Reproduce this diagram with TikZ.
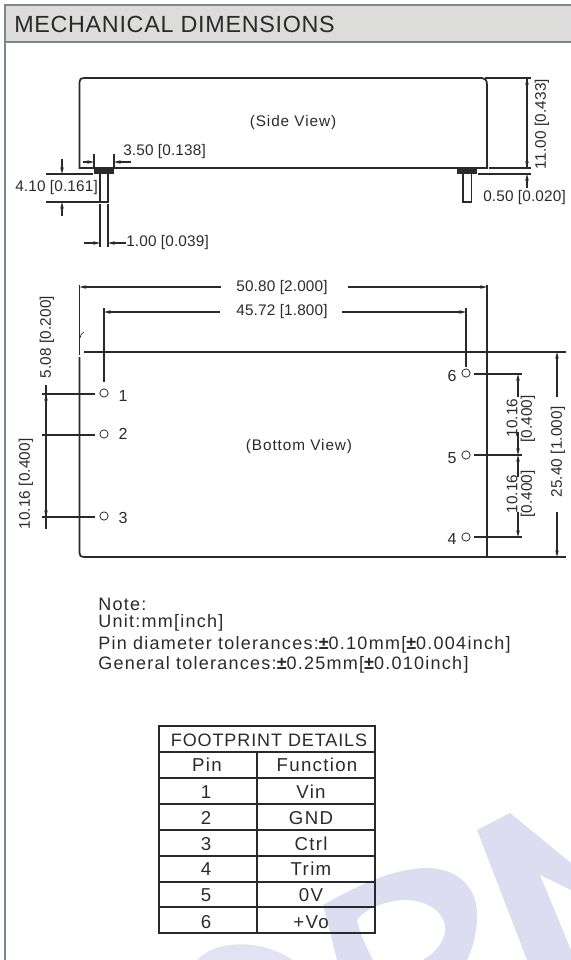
\documentclass[tikz,border=0pt]{standalone}
\usepackage{fontspec}
\setmainfont{Liberation Sans}
\usetikzlibrary{arrows.meta, positioning}
\definecolor{framegray}{HTML}{7B8790}
\definecolor{headgray}{HTML}{DCDCDA}
\definecolor{inkgray}{HTML}{2A2A2C}
\definecolor{markblue}{HTML}{DDDDF1}
\tikzset{
  outline/.style = {draw=inkgray, line width=1.3pt},
  dimline/.style = {draw=inkgray, line width=1.1pt},
  dimarrow/.style = {dimline, -{Stealth[length=5pt,width=2.6pt]}},
  dimlabel/.style = {text=inkgray, font=\fontsize{11.5}{13}\selectfont\addfontfeature{LetterSpace=1}, inner sep=0pt},
  viewlabel/.style = {text=inkgray, font=\fontsize{11.5}{13}\selectfont\addfontfeature{LetterSpace=6}, inner sep=0pt},
  pinhole/.style = {circle, draw=inkgray, line width=0.6pt, minimum size=6.2pt, inner sep=0pt},
  pinlabel/.style = {text=inkgray, font=\fontsize{12}{14}\selectfont, inner sep=0pt},
  cell/.style = {text=inkgray, font=\fontsize{14}{15}\selectfont\addfontfeature{LetterSpace=7}, inner sep=0pt},
  headcell/.style = {text=inkgray, font=\fontsize{13.5}{15}\selectfont\addfontfeature{LetterSpace=5}, inner sep=0pt},
  notetext/.style = {text=inkgray, font=\fontsize{13.5}{15}\selectfont\addfontfeature{LetterSpace=7}, inner sep=0pt, anchor=west},
}
\begin{document}
\begin{tikzpicture}[x=0.75pt, y=-0.75pt]
   \useasboundingbox (0,0) rectangle (571,960);
   % watermark
   \fill[markblue] (323,905) .. controls (350,890) and (390,868) .. (427,868) .. controls (455,868) and (477,885) .. (477,915) .. controls (477,935) and (472,950) .. (467,960) -- (423,960) .. controls (440,950) and (447,935) .. (445,925) .. controls (442,910) and (425,899) .. (400,900) .. controls (385,902) and (365,908) .. (357,920) .. controls (360,935) and (367,948) .. (373,960) -- (337,960) -- cycle;
   \fill[markblue] (477,830) -- (510,813) -- (571,863) -- (571,890) -- (540,875) -- (571,950) -- (571,960) -- (527,960) -- cycle;
   \fill[markblue!85] (197,960) .. controls (215,940) and (260,938) .. (293,960) -- cycle;
   % frame and heading
   \fill[headgray] (5,5) rectangle (571,41);
   \draw[framegray, line width=1.6pt] (571,5) -- (5,5) -- (5,960);
   \draw[framegray, line width=1.6pt] (5,42) -- (571,42);
   \node[anchor=west, inner sep=0pt, text=inkgray, font=\fontsize{17.5}{20}\selectfont\addfontfeature{LetterSpace=3}] (title) at (14,24) {MECHANICAL DIMENSIONS};

   % side view
   \draw[outline] (79.5,168) -- (79.5,82) .. controls (79.5,79) and (81,78) .. (84,78) -- (482,78) .. controls (485,78) and (487,80) .. (487,85) -- (487,168) -- cycle;
   \node[viewlabel] (sidelabel) at (293,123) {(Side View)};
   \fill[inkgray] (94,168) rectangle (114,174);
   \fill[inkgray] (457,168) rectangle (477,174);
   \draw[outline] (100,174) -- (100,202) -- (108,202) -- (108,174);
   \draw[outline] (463,174) -- (463,202) -- (471.5,202) -- (471.5,174);
   \draw[dimline] (94,154) -- (94,168);
   \draw[dimline] (114,154) -- (114,168);
   \draw[dimarrow] (83,162) -- (94,162);
   \draw[dimarrow] (131,162) -- (114,162);
   \node[dimlabel, anchor=west] (dimpad) at (123,152) {3.50 [0.138]};
   \draw[dimline] (46,174) -- (93,174);
   \draw[dimline] (46,202) -- (100,202);
   \draw[dimarrow] (62,159) -- (62,174);
   \draw[dimarrow] (62,216) -- (62,202);
   \node[dimlabel, anchor=west] (dimpin) at (15,188) {4.10 [0.161]};
   \draw[dimline] (100,204) -- (100,247);
   \draw[dimline] (108,204) -- (108,247);
   \draw[dimarrow] (84,243) -- (100,243);
   \draw[dimarrow] (126,243) -- (108,243);
   \node[dimlabel, anchor=west] (dimdia) at (126,243) {1.00 [0.039]};
   \draw[dimline] (485,78) -- (531,78);
   \draw[dimline] (489,168) -- (531,168);
   \draw[dimline] (478,174) -- (531,174);
   \draw[dimarrow] (527,78) -- (527,168);
   \draw[dimarrow] (527,168) -- (527,78);
   \draw[dimarrow] (527,188) -- (527,174);
   \node[dimlabel, rotate=90] (dimheight) at (542,124) {11.00 [0.433]};
   \node[dimlabel, anchor=west] (dimgap) at (483,198) {0.50 [0.020]};

   % bottom view
   \draw[outline] (84,352) -- (566,352);
   \draw[outline] (84,557) -- (566,557);
   \draw[outline] (79.5,357) -- (79.5,553) .. controls (79.5,556) and (81,557) .. (84,557);
   \draw[outline] (487,285) -- (487,557);
   \draw[outline] (79.5,285) -- (79.5,355);
   \draw[draw=inkgray, line width=0.5pt] (80,338) .. controls (80,335) and (82,333) .. (84,332);
   \draw[dimline] (104,308) -- (104,382);
   \draw[dimline] (466,308) -- (466,367);
   \draw[dimarrow] (221,287) -- (79.5,287);
   \draw[dimarrow] (348,287) -- (487,287);
   \node[dimlabel] (dimlength) at (282,288) {50.80 [2.000]};
   \draw[dimarrow] (220,312) -- (104,312);
   \draw[dimarrow] (342,312) -- (466,312);
   \node[dimlabel] (dimspan) at (282,312) {45.72 [1.800]};
   \node[dimlabel, rotate=90] (dimedge) at (47,337) {5.08 [0.200]};
   \node[viewlabel] (bottomlabel) at (299,447) {(Bottom View)};

   \node[pinhole] (p1) at (104,393) {};
   \node[pinhole] (p2) at (104,434) {};
   \node[pinhole] (p3) at (104,516) {};
   \node[pinhole] (p6) at (466,373) {};
   \node[pinhole] (p5) at (466,455) {};
   \node[pinhole] (p4) at (466,537) {};
   \node[pinlabel] (n1) at (123,396) {1};
   \node[pinlabel] (n2) at (123,434) {2};
   \node[pinlabel] (n3) at (123,518) {3};
   \node[pinlabel] (n6) at (452,376) {6};
   \node[pinlabel] (n5) at (452,458) {5};
   \node[pinlabel] (n4) at (452,539) {4};

   \draw[dimline] (42,394) -- (95,394);
   \draw[dimline] (42,435) -- (95,435);
   \draw[dimline] (42,517) -- (95,517);
   \draw[dimarrow] (46,435) -- (46,394);
   \draw[dimarrow] (46,435) -- (46,517);
   \draw[dimline] (46,385) -- (46,529);
   \node[dimlabel, rotate=90] (dimleft) at (26,484) {10.16 [0.400]};

   \draw[dimline] (474,374) -- (522,374);
   \draw[dimline] (474,455) -- (522,455);
   \draw[dimline] (474,537) -- (522,537);
   \draw[dimarrow] (518,397) -- (518,374);
   \draw[dimarrow] (518,432) -- (518,455);
   \draw[dimarrow] (518,477) -- (518,455);
   \draw[dimarrow] (518,512) -- (518,537);
   \node[dimlabel, rotate=90] (dimsixa) at (512,418) {10.16};
   \node[dimlabel, rotate=90] (dimsixb) at (528,419) {[0.400]};
   \node[dimlabel, rotate=90] (dimfoura) at (512,494) {10.16};
   \node[dimlabel, rotate=90] (dimfourb) at (528,494) {[0.400]};
   \draw[dimarrow] (557,397) -- (557,352);
   \draw[dimarrow] (557,512) -- (557,557);
   \node[dimlabel, rotate=90] (dimwidth) at (558,452) {25.40 [1.000]};

   % notes
   \node[notetext] (note1) at (98,604) {Note:};
   \node[notetext] (note2) at (98,623) {Unit:mm[inch]};
   \node[notetext] (note3) at (98,645) {Pin diameter tolerances:{\bfseries ±}0.10mm[{\bfseries ±}0.004inch]};
   \node[notetext] (note4) at (98,665) {General tolerances:{\bfseries ±}0.25mm[{\bfseries ±}0.010inch]};

   % footprint table
   \draw[outline] (159,726) rectangle (375,933);
   \foreach \rowy in {752,778,804,830,856,882,907}
      \draw[outline] (159,\rowy) -- (375,\rowy);
   \draw[outline] (257,752) -- (257,933);
   \node[headcell] (tabhead) at (269,740) {FOOTPRINT DETAILS};
   \node[cell] (pinhead) at (207,765) {Pin};
   \node[cell] (funchead) at (317,765) {Function};
   \foreach \rowy/\pinno/\pinfunc in {792/1/Vin, 818/2/GND, 844/3/Ctrl, 869/4/Trim, 895/5/0V, 922/6/+Vo} {
      \node[cell] (pin\pinno) at (206,\rowy) {\pinno};
      \node[cell] (func\pinno) at (311,\rowy) {\pinfunc};
   }
\end{tikzpicture}
\end{document}
